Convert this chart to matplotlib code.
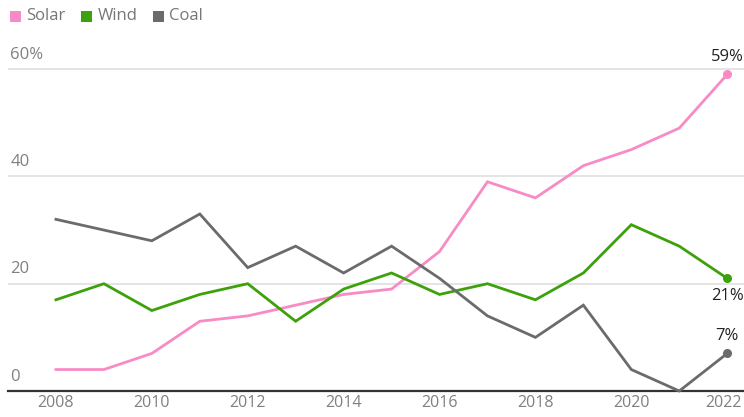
import matplotlib
matplotlib.use("Agg")
import matplotlib.pyplot as plt
import matplotlib.transforms as mtransforms
from matplotlib.patches import Rectangle

plt.rcParams['font.family'] = ['Open Sans', 'DejaVu Sans']

years = list(range(2008, 2023))
solar = [4, 4, 7, 13, 14, 16, 18, 19, 26, 39, 36, 42, 45, 49, 59]
wind = [17, 20, 15, 18, 20, 13, 19, 22, 18, 20, 17, 22, 31, 27, 21]
coal = [32, 30, 28, 33, 23, 27, 22, 27, 21, 14, 10, 16, 4, 0, 7]
series_names = ["Solar", "Wind", "Coal"]
colors = ["#f88bc6", "#3da10b", "#6b6b6b"]
ytick_vals = [0, 20, 40, 60]
ytick_labels = ["0", "20", "40", "60%"]
xtick_vals = [2008, 2010, 2012, 2014, 2016, 2018, 2020, 2022]

fig = plt.figure(figsize=(7.44, 4.17), dpi=100)
ax = fig.add_axes([8/744, 26/417, 736/744, 331/417])
ax.set_xlim(2007.0, 2022.35)
ax.set_ylim(0, 61.7)

for v in ytick_vals[1:]:
    ax.axhline(v, color="#dcdcdc", lw=1.1, zorder=1)
ax.axhline(0, color="#333333", lw=1.6, zorder=3, clip_on=False)

for data, c in zip([solar, wind, coal], colors):
    ax.plot(years, data, color=c, lw=2, zorder=4, clip_on=False, solid_joinstyle='miter')
    ax.plot(years[-1], data[-1], 'o', color=c, ms=5.5, zorder=5, clip_on=False)

for v, lab in zip(ytick_vals, ytick_labels):
    ax.text(2007.05, v + 1.2, lab, color="#808080", fontsize=12, ha="left", va="bottom")

ax.set_xticks(xtick_vals)
ax.set_xticklabels([str(x) for x in xtick_vals], color="#808080", fontsize=11.5)
ax.tick_params(axis='x', length=0, pad=3)
ax.set_yticks([])
for s in ax.spines.values():
    s.set_visible(False)
last = ax.get_xticklabels()[-1]
last.set_transform(last.get_transform() + mtransforms.ScaledTranslation(-4/100, 0, fig.dpi_scale_trans))

ax.annotate(f"{solar[-1]}%", (years[-1], solar[-1]), xytext=(0, 7), textcoords="offset points",
            ha="center", va="bottom", fontsize=12, color="#222222")
ax.annotate(f"{wind[-1]}%", (years[-1], wind[-1]), xytext=(0, -7), textcoords="offset points",
            ha="center", va="top", fontsize=12, color="#222222")
ax.annotate(f"{coal[-1]}%", (years[-1], coal[-1]), xytext=(0, 7), textcoords="offset points",
            ha="center", va="bottom", fontsize=12, color="#222222")

# legend
lx = 10
for name, c in zip(series_names, colors):
    fig.patches.append(Rectangle((lx/744, 1 - 22/417), 11/744, 11/417, transform=fig.transFigure,
                                 facecolor=c, edgecolor='none'))
    t = fig.text((lx + 16)/744, 1 - 16.5/417, name, color="#777777", fontsize=12, va="center", ha="left")
    fig.canvas.draw()
    bb = t.get_window_extent()
    lx = bb.x1 + 16

fig.savefig("out.png", dpi=100)
